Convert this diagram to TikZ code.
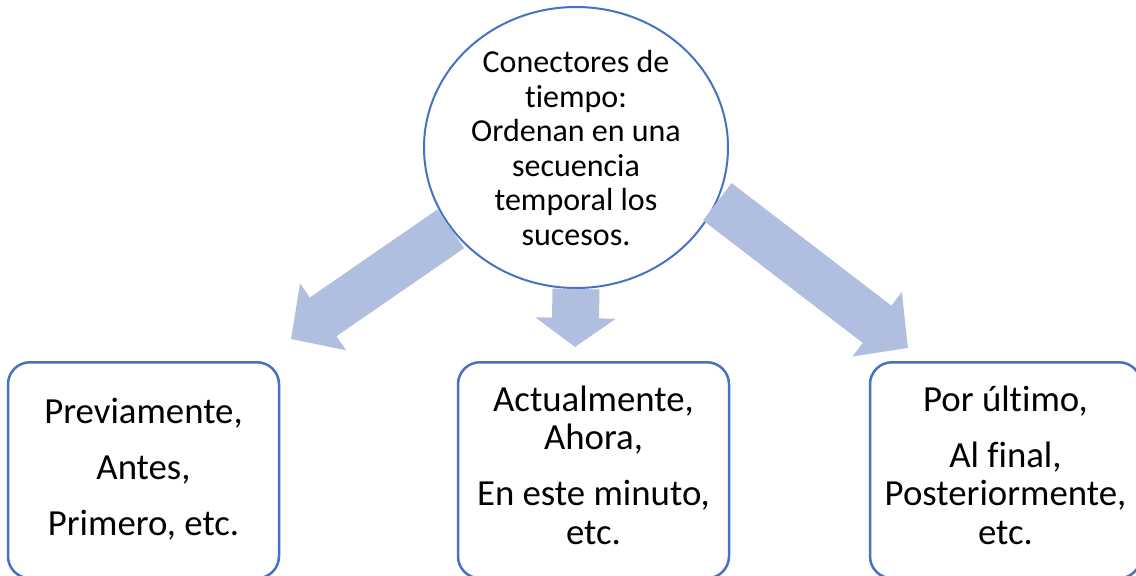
\documentclass[tikz,border=0pt]{standalone}
\usepackage{fontspec}
\setmainfont{Carlito}[Ligatures=NoCommon]
\usetikzlibrary{positioning,shapes.geometric,arrows.meta}
\definecolor{linkblue}{RGB}{68,114,196}
\definecolor{arrowfill}{RGB}{176,190,224}
\newcommand{\topstrut}{\rule{0pt}{16pt}}
\newcommand{\hubstrut}{\rule{0pt}{14pt}}

\begin{document}
\begin{tikzpicture}[x=0.5pt,y=-0.5pt,
  hub/.style={ellipse,draw=linkblue,line width=1pt,fill=white,
    minimum width=152pt,minimum height=140.5pt,inner sep=0pt},
  hub text/.style={align=center,inner sep=0pt,anchor=north,
    font=\fontsize{16}{17.3}\selectfont},
  time box/.style={rectangle,draw=linkblue,line width=1.25pt,
    rounded corners=11pt,minimum width=135.5pt,minimum height=108pt,
    anchor=north,inner sep=0pt},
  box text/.style={align=center,inner sep=0pt,
    font=\fontsize{18.4}{19.25}\selectfont},
  fat arrow/.style={draw=arrowfill,line width=23.5pt,
    -{Triangle[length=#1,width=39.5pt]}},
  fat arrow/.default=19.5pt]

  \useasboundingbox (0,0) rectangle (1136,575);

  \node[hub] (hub) at (576,147.5) {};
  \node[hub text] (hubtxt) at (576,44) {\hubstrut Conectores de\\ tiempo:\\
    Ordenan en una\\ secuencia\\ temporal los\\ sucesos.};

  \node[time box] (prev) at (143.5,361) {};
  \node[time box] (now) at (593.5,361) {};
  \node[time box] (post) at (1005.5,361) {};

  \node[box text] (prevtxt) [below=15pt of prev.north]
    {\topstrut Previamente,\\[8.75pt] Antes,\\[8.75pt] Primero, etc.};
  \node[box text] (nowtxt) [below=9pt of now.north]
    {\topstrut Actualmente,\\ Ahora,\\[8.75pt] En este minuto,\\ etc.};
  \node[box text] (posttxt) [below=9pt of post.north]
    {\topstrut Por último,\\[8.75pt] Al final,\\ Posteriormente,\\ etc.};

  \coordinate (prevtip) at (291,339);
  \coordinate (nowtip) at (575,347);
  \coordinate (posttip) at (908,348);

  \path
  (hub.213) edge[fat arrow] (prevtip)
  (hub.south) edge[fat arrow=14.5pt] (nowtip)
  (hub.-21) edge[fat arrow] (posttip)
  ;

\end{tikzpicture}
\end{document}
